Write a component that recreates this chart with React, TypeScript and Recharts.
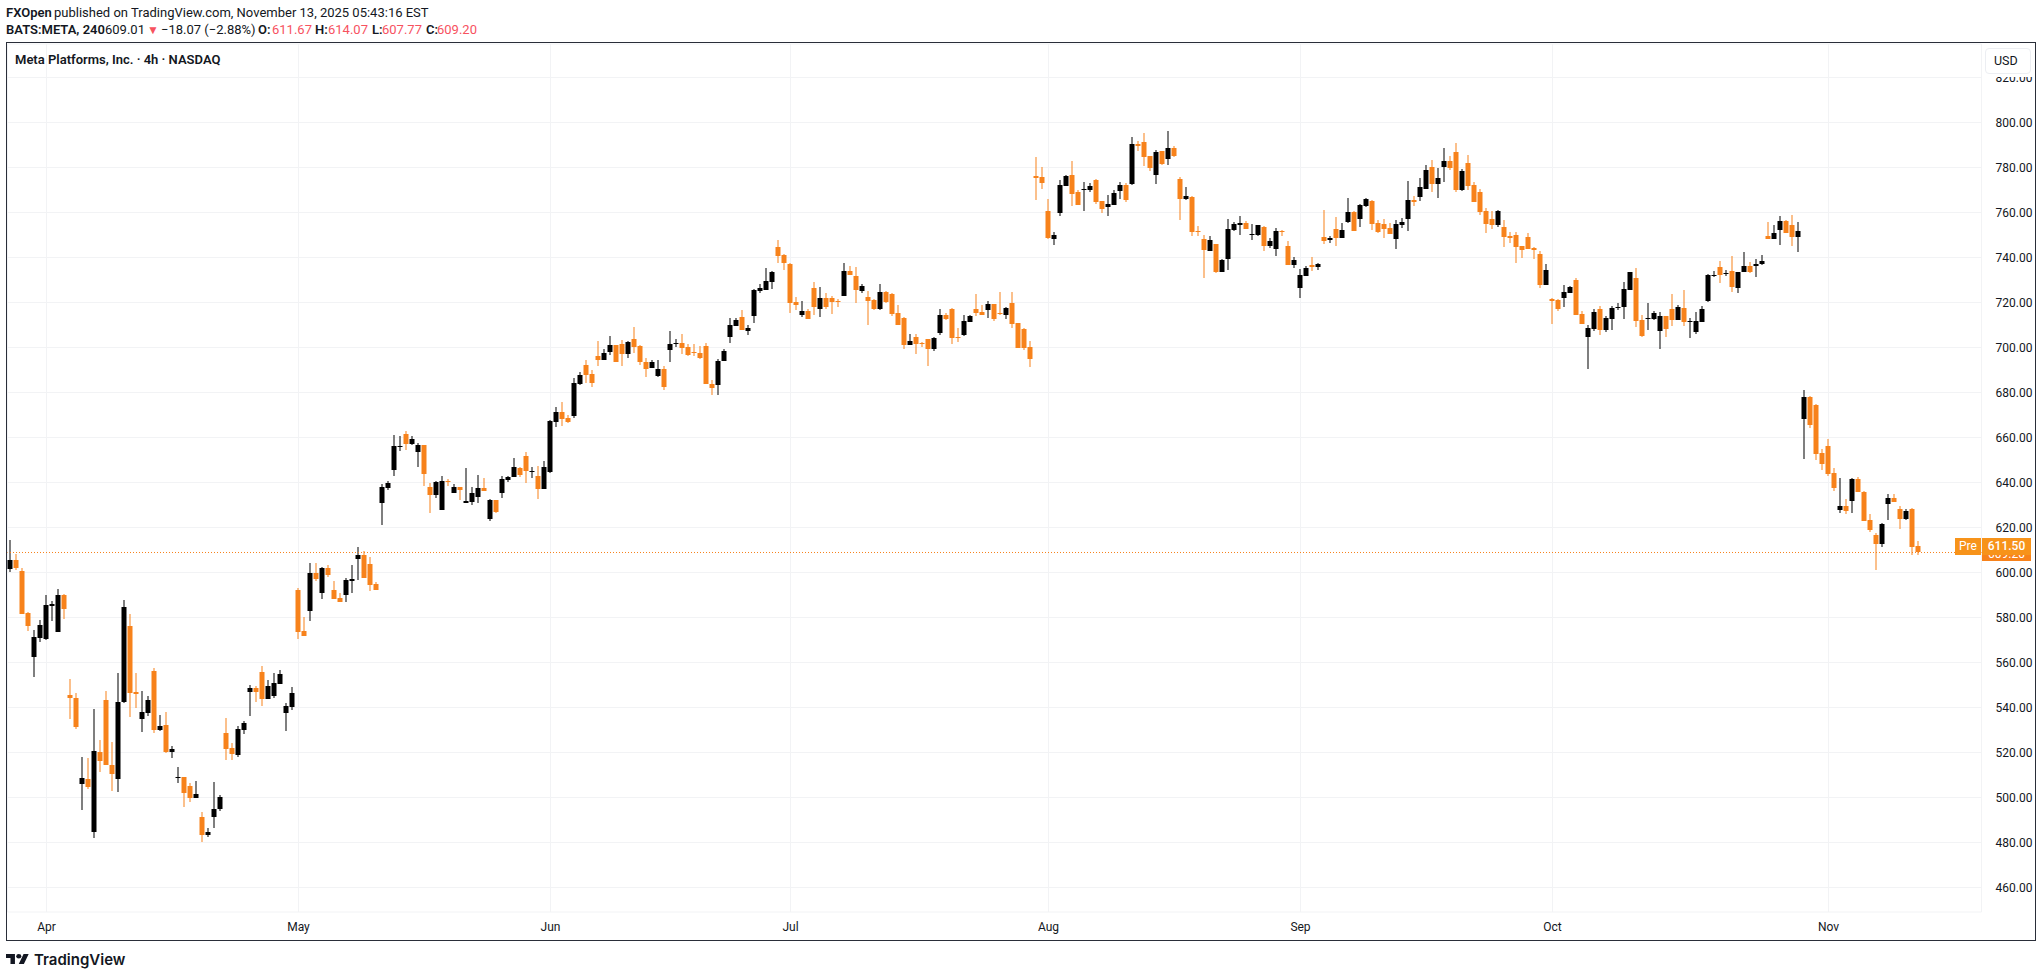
import { Bar, CartesianGrid, ComposedChart, ReferenceLine, XAxis, YAxis } from "recharts";

const opens = [
  601.6, 605.5, 600.6, 581.9, 562.4, 570.8, 570.4, 585.0, 573.5, 589.9,
  545.5, 544.1, 505.9, 508.1, 484.6, 520.1, 543.3, 514.4, 508.1, 542.4,
  576.1, 546.8, 534.8, 537.5, 556.1, 529.9, 532.1, 520.1, 508.6, 509.0,
  505.0, 499.7, 491.3, 483.3, 491.3, 494.8, 528.6, 521.9, 518.8, 529.9,
  546.8, 548.6, 555.7, 543.7, 545.0, 550.4, 537.5, 540.1, 592.1, 573.9,
  582.8, 599.7, 590.8, 601.9, 592.1, 588.6, 589.9, 596.1, 605.9, 607.7,
  603.7, 594.8, 630.8, 637.5, 645.5, 655.7, 661.5, 657.0, 653.5, 656.6,
  637.9, 634.4, 627.7, 640.6, 635.3, 637.9, 630.8, 631.3, 633.5, 637.5,
  623.7, 632.1, 635.3, 641.0, 642.4, 646.4, 651.7, 644.6, 642.8, 637.0,
  644.6, 666.8, 671.3, 668.6, 669.5, 683.8, 692.2, 688.2, 696.2, 694.4,
  697.9, 701.0, 701.5, 697.0, 703.7, 700.6, 693.5, 690.8, 687.3, 690.4,
  698.8, 701.5, 701.9, 700.1, 697.9, 697.5, 700.6, 683.7, 683.3, 693.9,
  704.6, 709.5, 713.5, 707.3, 713.9, 725.0, 725.5, 729.0, 744.6, 741.0,
  737.0, 720.1, 714.4, 716.1, 726.4, 717.0, 721.9, 721.9, 720.6, 722.8,
  733.9, 731.7, 725.0, 722.4, 721.0, 717.0, 724.6, 723.7, 715.3, 713.0,
  701.0, 704.6, 701.9, 703.7, 699.3, 706.4, 714.4, 717.0, 704.6, 705.5,
  711.3, 717.0, 715.7, 716.6, 719.3, 715.3, 714.4, 719.7, 710.8, 708.1,
  700.1, 776.2, 775.8, 760.7, 748.2, 759.8, 771.8, 776.7, 769.1, 770.0,
  770.0, 774.4, 765.1, 762.4, 763.3, 769.6, 772.2, 772.7, 790.4, 791.3,
  785.1, 776.7, 787.3, 783.8, 788.7, 774.9, 766.0, 766.9, 751.8, 748.2,
  742.9, 746.0, 733.6, 739.3, 752.2, 754.4, 755.3, 750.0, 750.0, 753.6,
  745.1, 743.8, 751.8, 745.1, 736.7, 726.4, 731.8, 736.7, 735.8, 749.1,
  747.8, 752.7, 748.7, 755.8, 760.2, 757.1, 762.9, 765.1, 755.3, 754.9,
  753.1, 748.2, 754.4, 757.1, 765.6, 766.9, 770.4, 780.2, 772.7, 780.2,
  782.9, 786.9, 770.0, 782.0, 772.2, 769.1, 760.7, 757.1, 754.4, 753.6,
  749.6, 750.0, 745.1, 749.1, 744.2, 741.6, 727.8, 721.6, 721.1, 722.0,
  724.2, 730.0, 714.9, 704.7, 708.2, 717.1, 707.8, 712.7, 717.6, 718.0,
  725.6, 730.9, 712.2, 712.7, 712.7, 707.3, 714.0, 717.1, 712.2, 717.6,
  711.3, 706.9, 711.3, 720.7, 731.8, 735.8, 732.7, 734.0, 726.4, 733.6,
  736.2, 736.2, 737.1, 749.6, 748.2, 752.2, 756.2, 754.4, 749.1, 668.2,
  678.0, 674.4, 653.1, 656.2, 644.2, 627.8, 629.6, 631.8, 641.6, 635.8,
  623.3, 616.7, 612.7, 630.4, 633.1, 628.2, 623.8, 628.2, 611.67,
];

const highs = [
  614.4, 608.1, 601.9, 582.4, 574.4, 578.8, 589.9, 587.3, 592.6, 590.4,
  552.6, 546.4, 517.9, 517.5, 539.3, 525.5, 547.3, 524.6, 555.3, 587.7,
  581.5, 555.3, 547.3, 545.0, 557.5, 536.6, 537.9, 522.8, 513.5, 509.0,
  506.4, 507.3, 493.5, 486.4, 506.8, 501.0, 535.3, 524.1, 531.7, 533.9,
  549.9, 549.5, 558.4, 552.1, 555.3, 556.6, 541.9, 549.0, 593.0, 580.1,
  604.1, 604.1, 602.4, 603.3, 596.1, 590.8, 597.5, 603.3, 611.3, 609.5,
  606.8, 595.7, 639.3, 640.6, 661.0, 660.6, 662.8, 660.6, 657.5, 656.6,
  639.7, 640.6, 642.8, 641.5, 639.3, 637.9, 646.4, 637.9, 643.3, 641.9,
  632.6, 632.1, 642.8, 642.8, 650.8, 646.8, 653.5, 646.8, 647.3, 649.5,
  667.7, 673.5, 675.7, 669.9, 686.4, 689.1, 694.4, 690.0, 702.9, 699.3,
  705.0, 701.0, 703.3, 702.8, 709.0, 701.0, 695.3, 694.4, 694.4, 691.7,
  707.3, 703.7, 705.9, 701.5, 701.5, 700.6, 701.9, 685.5, 694.8, 699.3,
  713.0, 713.0, 716.6, 709.9, 725.9, 728.1, 735.3, 733.9, 747.7, 741.5,
  737.5, 722.4, 720.6, 717.0, 729.0, 726.8, 724.1, 722.8, 721.5, 737.5,
  736.1, 735.7, 728.1, 725.0, 721.5, 728.1, 725.0, 724.1, 718.8, 713.5,
  705.9, 705.9, 702.4, 703.7, 704.6, 717.0, 715.3, 717.5, 708.6, 714.4,
  714.4, 723.7, 718.8, 720.6, 719.3, 724.6, 717.9, 724.6, 710.8, 708.6,
  702.8, 784.7, 780.2, 766.0, 751.3, 774.4, 776.7, 782.9, 770.0, 773.6,
  773.1, 774.9, 765.1, 767.8, 770.0, 773.6, 773.1, 793.6, 791.8, 795.3,
  785.1, 787.8, 787.3, 796.2, 789.6, 775.8, 771.3, 767.3, 754.0, 750.0,
  749.6, 746.0, 739.3, 757.1, 755.8, 758.4, 756.2, 754.9, 754.4, 754.0,
  748.7, 753.1, 752.2, 747.3, 740.2, 734.9, 736.2, 740.2, 737.6, 761.1,
  749.6, 758.0, 755.3, 766.4, 760.7, 763.8, 766.4, 765.6, 756.7, 757.1,
  755.3, 756.7, 757.6, 774.0, 767.3, 775.3, 781.1, 783.3, 779.8, 788.7,
  785.1, 790.9, 779.3, 785.6, 773.6, 770.4, 762.0, 760.7, 761.1, 756.7,
  751.3, 751.3, 745.1, 750.9, 744.7, 742.9, 737.1, 722.0, 721.6, 727.8,
  727.3, 730.9, 716.2, 710.0, 717.1, 718.4, 714.0, 718.4, 719.8, 729.1,
  733.6, 735.3, 714.4, 719.8, 716.2, 715.8, 714.0, 723.8, 718.9, 725.6,
  713.1, 715.8, 718.4, 732.7, 734.0, 738.4, 734.4, 740.7, 733.6, 742.4,
  738.0, 739.3, 741.1, 755.8, 754.4, 758.4, 756.7, 758.9, 755.8, 681.1,
  678.4, 674.9, 654.9, 659.3, 646.4, 642.0, 632.7, 642.0, 642.4, 636.2,
  626.0, 617.6, 622.0, 634.9, 634.9, 629.6, 628.2, 628.7, 614.07,
];

const lows = [
  600.3, 601.3, 581.5, 573.9, 553.6, 569.0, 569.9, 578.4, 573.5, 579.3,
  534.8, 530.4, 494.4, 503.7, 481.9, 511.3, 514.4, 502.8, 502.4, 541.9,
  535.7, 539.7, 529.0, 536.1, 528.6, 529.5, 519.7, 517.5, 506.4, 495.7,
  497.9, 499.7, 480.1, 482.4, 486.4, 493.9, 516.6, 516.6, 517.9, 528.1,
  536.1, 542.4, 540.6, 543.7, 544.1, 550.4, 529.5, 538.8, 570.4, 571.7,
  578.4, 596.1, 588.1, 597.9, 588.1, 586.8, 586.8, 590.8, 596.6, 597.5,
  591.7, 592.1, 621.0, 636.6, 642.8, 653.9, 654.4, 656.6, 646.8, 638.4,
  626.4, 633.0, 627.7, 638.4, 635.3, 632.1, 630.8, 629.9, 630.8, 636.1,
  622.8, 626.4, 633.0, 640.1, 642.4, 642.4, 639.7, 641.9, 632.6, 637.0,
  644.1, 664.6, 665.0, 666.4, 668.6, 683.3, 684.2, 682.4, 691.8, 694.4,
  696.6, 693.5, 691.7, 695.3, 697.5, 692.1, 686.8, 690.8, 686.8, 681.0,
  693.5, 700.1, 697.0, 696.1, 696.1, 694.8, 683.7, 678.8, 678.8, 693.9,
  701.9, 709.5, 707.7, 705.5, 710.8, 724.1, 725.5, 725.9, 737.5, 734.4,
  715.3, 716.6, 713.5, 712.6, 714.4, 713.5, 717.0, 714.8, 717.9, 722.8,
  732.1, 719.7, 724.1, 709.9, 716.6, 716.6, 719.7, 713.9, 709.9, 699.3,
  701.0, 697.0, 700.1, 691.7, 698.4, 705.5, 712.1, 701.5, 702.4, 705.0,
  711.3, 713.9, 714.4, 713.0, 711.7, 714.4, 712.6, 708.6, 699.7, 698.8,
  691.3, 765.6, 770.4, 748.2, 745.6, 758.4, 771.8, 762.9, 763.3, 760.7,
  769.1, 763.8, 759.8, 758.4, 763.3, 766.0, 764.7, 772.2, 787.3, 780.7,
  778.4, 772.7, 781.1, 781.1, 784.7, 756.7, 765.6, 749.6, 749.6, 730.9,
  742.9, 733.1, 733.6, 734.4, 751.8, 750.0, 752.7, 747.8, 749.6, 742.9,
  744.2, 740.7, 749.6, 736.7, 735.3, 722.0, 731.8, 734.0, 734.4, 746.0,
  746.4, 745.1, 748.7, 755.3, 751.8, 753.6, 762.4, 752.2, 750.9, 748.7,
  750.4, 743.8, 753.1, 751.8, 762.9, 765.1, 770.4, 769.1, 766.4, 773.6,
  778.9, 769.1, 769.6, 770.0, 764.7, 758.9, 750.9, 752.7, 753.6, 744.7,
  746.4, 737.6, 739.8, 743.8, 739.3, 726.4, 727.8, 710.4, 716.2, 718.0,
  724.2, 714.4, 710.4, 690.4, 707.3, 705.6, 706.9, 707.8, 716.7, 712.7,
  725.6, 709.1, 704.7, 707.8, 712.2, 699.3, 704.7, 709.6, 712.2, 709.6,
  704.2, 706.0, 711.3, 720.2, 731.3, 728.7, 731.8, 724.7, 724.2, 733.6,
  733.1, 731.3, 736.7, 748.2, 748.2, 745.6, 750.9, 745.1, 742.4, 650.4,
  664.2, 650.0, 645.6, 642.9, 636.2, 626.4, 626.0, 626.4, 635.8, 622.9,
  618.0, 601.1, 611.3, 623.3, 631.3, 619.3, 623.3, 607.8, 607.77,
];

const closes = [
  605.5, 601.8, 581.5, 576.1, 571.3, 576.6, 585.5, 585.9, 589.9, 583.7,
  544.1, 531.3, 508.6, 504.6, 520.6, 516.1, 514.4, 510.4, 542.4, 584.6,
  546.4, 545.9, 537.9, 543.3, 529.9, 531.7, 520.1, 521.5, 509.0, 501.9,
  499.7, 501.5, 483.3, 484.6, 494.8, 500.1, 521.5, 519.3, 530.4, 533.0,
  548.6, 546.8, 543.7, 549.5, 550.8, 554.8, 540.6, 546.4, 573.5, 571.7,
  599.7, 597.0, 601.9, 598.8, 588.1, 586.8, 596.6, 597.0, 607.7, 597.5,
  594.4, 592.1, 637.9, 639.7, 656.1, 656.1, 657.0, 659.3, 656.6, 643.7,
  634.4, 640.1, 640.6, 640.1, 637.9, 636.6, 631.7, 635.3, 637.5, 636.1,
  632.1, 626.8, 641.5, 642.4, 646.8, 643.3, 645.0, 645.0, 637.0, 646.8,
  667.3, 671.3, 668.1, 666.8, 684.2, 687.8, 687.8, 684.2, 694.4, 697.5,
  701.0, 693.5, 697.0, 702.4, 700.1, 693.5, 690.4, 693.5, 690.4, 682.4,
  701.5, 701.9, 699.7, 696.6, 697.5, 695.3, 683.7, 681.9, 693.9, 698.4,
  709.9, 712.1, 707.7, 708.6, 725.5, 726.4, 729.5, 733.5, 740.6, 737.5,
  719.7, 718.8, 716.1, 712.6, 717.9, 721.9, 717.9, 720.1, 720.1, 733.9,
  732.1, 725.5, 727.3, 720.6, 717.0, 724.6, 720.1, 714.8, 709.9, 701.0,
  702.8, 701.5, 701.5, 699.3, 704.1, 714.4, 712.6, 704.1, 704.1, 711.7,
  713.9, 715.3, 714.4, 719.3, 712.6, 714.8, 717.5, 710.4, 699.7, 699.7,
  694.8, 775.3, 773.1, 748.7, 750.0, 772.2, 776.2, 768.2, 763.3, 770.4,
  771.8, 764.7, 761.6, 763.8, 768.7, 772.2, 765.6, 790.4, 789.6, 784.7,
  779.8, 786.9, 781.6, 788.7, 785.1, 766.0, 767.3, 751.3, 751.3, 743.3,
  747.8, 733.6, 738.9, 752.7, 754.9, 755.3, 752.7, 750.4, 754.4, 745.1,
  747.3, 751.8, 751.3, 736.7, 738.9, 732.2, 735.3, 735.8, 737.1, 747.3,
  748.7, 748.7, 752.2, 760.2, 751.8, 763.3, 766.0, 754.9, 751.3, 752.7,
  750.4, 754.9, 755.8, 765.6, 764.7, 771.3, 778.9, 772.7, 775.3, 782.9,
  779.8, 770.0, 778.4, 771.8, 764.7, 760.2, 754.9, 754.4, 760.7, 749.1,
  748.7, 744.7, 743.3, 743.8, 743.3, 727.8, 734.4, 720.7, 717.1, 724.7,
  726.9, 714.4, 710.4, 708.7, 715.8, 707.8, 713.1, 717.6, 718.0, 726.0,
  733.6, 711.8, 705.1, 713.1, 715.3, 714.0, 708.2, 712.2, 718.0, 711.3,
  711.8, 711.8, 717.1, 732.2, 732.2, 732.2, 733.1, 726.9, 733.6, 736.2,
  733.6, 737.1, 738.4, 748.2, 750.9, 756.2, 750.9, 749.1, 751.8, 678.0,
  665.6, 652.7, 648.2, 643.8, 637.6, 629.6, 627.3, 641.6, 635.8, 622.9,
  618.9, 612.7, 621.6, 633.1, 631.3, 623.8, 627.3, 611.3, 609.2,
];

const monthLabels = ["Apr", "May", "Jun", "Jul", "Aug", "Sep", "Oct", "Nov"];
const monthTicks = [6, 48, 90, 130, 173, 215, 257, 303];
const priceTicks = [460, 480, 500, 520, 540, 560, 580, 600, 620, 640, 660, 680, 700, 720, 740, 760, 780, 800, 820];
const priceLine = 608.89;

const UP = "#000000";
const DOWN = "#f7821b";
const RED = "#f7525f";
const TEXT = "#131722";
const FONT = "Roboto, sans-serif";

const candles = opens.map((open, i) => ({
  i,
  wick: [lows[i], highs[i]],
  body: [Math.min(open, closes[i]), Math.max(open, closes[i])],
  color: closes[i] >= open ? UP : DOWN,
}));

// snap to whole pixels so the candles stay crisp like the original
const CandlePart = (props: any) => {
  const top = Math.round(props.y);
  const h = Math.max(1, Math.round(props.y + props.height) - top);
  return <rect x={props.x} y={top} width={props.width} height={h} fill={props.payload.color} />;
};

const Label = ({ x, y, color = TEXT, bold = false, size = 13, children }: any) => (
  <span
    style={{
      position: "absolute",
      left: x,
      top: y,
      color,
      fontWeight: bold ? 600 : 400,
      fontSize: size,
      lineHeight: "16px",
      whiteSpace: "nowrap",
    }}
  >
    {children}
  </span>
);

const App = () => {
  return (
    <div style={{ position: "fixed", left: 0, top: 0, width: 2042, height: 978, background: "#fff", fontFamily: FONT, overflow: "hidden" }}>
      <Label x={6} y={5} bold>FXOpen</Label>
      <Label x={54} y={5}>published on TradingView.com, November 13, 2025 05:43:16 EST</Label>
      <Label x={6} y={22} bold>BATS:META, 240</Label>
      <Label x={105} y={22}>609.01</Label>
      <Label x={147} y={22} color={RED} size={12}>▼</Label>
      <Label x={161} y={22}>−18.07 (−2.88%)</Label>
      <Label x={258} y={22} bold>O:</Label>
      <Label x={272} y={22} color={RED}>611.67</Label>
      <Label x={315} y={22} bold>H:</Label>
      <Label x={328} y={22} color={RED}>614.07</Label>
      <Label x={372} y={22} bold>L:</Label>
      <Label x={382} y={22} color={RED}>607.77</Label>
      <Label x={426} y={22} bold>C:</Label>
      <Label x={437} y={22} color={RED}>609.20</Label>

      <div style={{ position: "absolute", left: 0, top: 0 }}>
        <ComposedChart
          width={2042}
          height={978}
          data={candles}
          margin={{ top: 44, right: 0, bottom: 37, left: 7.5 }}
        >
          <CartesianGrid xAxisId="body" yAxisId="price" stroke="#f2f3f5" />
          <XAxis
            xAxisId="body"
            type="number"
            dataKey="i"
            domain={[-0.5, 328.5]}
            ticks={monthTicks}
            interval={0}
            height={29}
            axisLine={false}
            tickLine={false}
            tickMargin={4}
            tick={{ fill: TEXT, fontSize: 12, fontFamily: FONT }}
            tickFormatter={(v: number) => monthLabels[monthTicks.indexOf(v)]}
          />
          <XAxis xAxisId="wick" type="number" dataKey="i" domain={[-0.5, 328.5]} hide />
          <YAxis
            yAxisId="price"
            orientation="right"
            domain={[449.111, 834.889]}
            ticks={priceTicks}
            interval={0}
            width={60.5}
            axisLine={false}
            tickLine={false}
            tickMargin={8}
            tick={{ fill: TEXT, fontSize: 12, fontFamily: FONT, textAnchor: "start" }}
            tickFormatter={(v: number) => v.toFixed(2)}
          />
          <ReferenceLine xAxisId="body" yAxisId="price" y={priceLine} stroke={DOWN} strokeDasharray="1 2" strokeDashoffset={0.5} />
          <Bar xAxisId="wick" yAxisId="price" dataKey="wick" barSize={1} isAnimationActive={false} shape={CandlePart} />
          <Bar xAxisId="body" yAxisId="price" dataKey="body" barSize={5} isAnimationActive={false} shape={CandlePart} />
        </ComposedChart>
      </div>

      <div style={{ position: "absolute", left: 6, top: 42, width: 2030, height: 899, border: "1px solid #2a2e39", boxSizing: "border-box", pointerEvents: "none" }} />
      <Label x={15} y={52} bold>Meta Platforms, Inc. · 4h · NASDAQ</Label>

      {/* the currency button hides the top half of the 820 label */}
      <div style={{ position: "absolute", left: 1983, top: 44, width: 51, height: 33, background: "#fff" }} />
      <div style={{ position: "absolute", left: 1985, top: 48, width: 46, height: 26, boxSizing: "border-box", background: "#fff", border: "1px solid #eceef2", borderRadius: 4, color: TEXT, fontSize: 12.5, lineHeight: "24px", paddingLeft: 8 }}>USD</div>

      <div style={{ position: "absolute", left: 1982, top: 545, width: 49, height: 16, background: DOWN, color: "#fff", fontSize: 12, lineHeight: "19px", textAlign: "center" }}>609.20</div>
      <div style={{ position: "absolute", left: 1955, top: 538, width: 26, height: 17, background: "#f7931a", color: "#fff", fontSize: 12, lineHeight: "17px", textAlign: "center" }}>Pre</div>
      <div style={{ position: "absolute", left: 1982, top: 538, width: 49, height: 17, background: "#f7931a", color: "#fff", fontSize: 12, fontWeight: 500, lineHeight: "17px", textAlign: "center" }}>611.50</div>

      <svg style={{ position: "absolute", left: 6, top: 954 }} width={23} height={10} viewBox="0 4 36 18" preserveAspectRatio="none">
        <path d="M14 22H7V11H0V4h14v18zM28 22h-8l7.5-18h8L28 22z" fill="#131722" />
        <circle cx={20} cy={8} r={4} fill="#131722" />
      </svg>
      <span style={{ position: "absolute", left: 34, top: 949, fontFamily: "Inter, sans-serif", fontWeight: 600, fontSize: 15, lineHeight: "22px", color: TEXT }}>TradingView</span>
    </div>
  );
};

export default App;
